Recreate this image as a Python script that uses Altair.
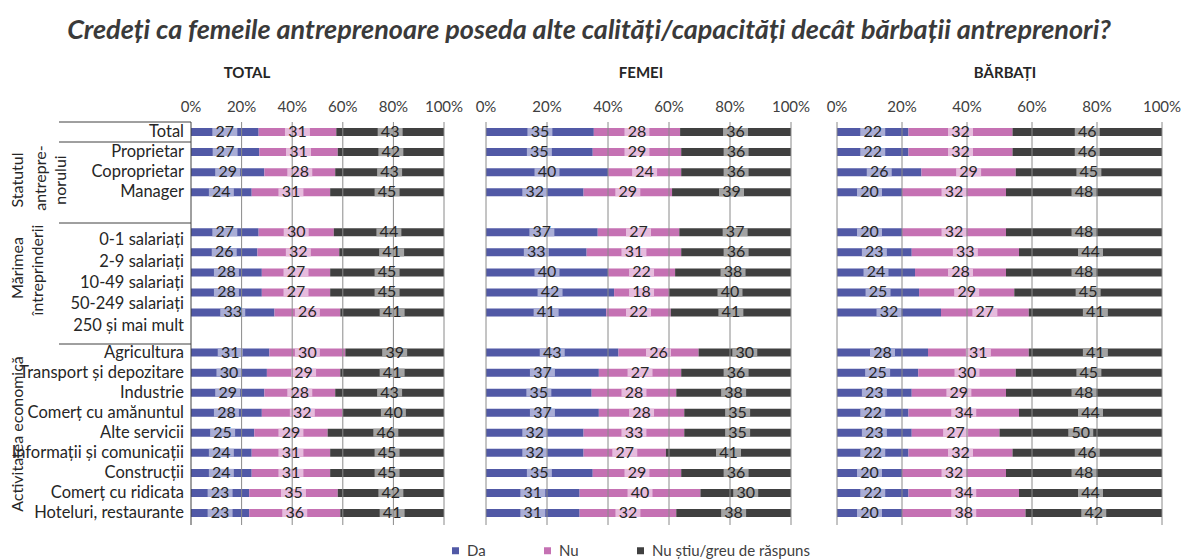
import altair as alt
import pandas as pd

# ---------------- data ----------------
ROWS = ["Total", "Proprietar", "Coproprietar", "Manager", "sp1",
        "0-1 salariați", "2-9 salariați", "10-49 salariați", "50-249 salariați", "250 și mai mult", "sp2",
        "Agricultura", "Transport și depozitare", "Industrie", "Comerț cu amănuntul", "Alte servicii",
        "Informații și comunicații", "Construcții", "Comerț cu ridicata", "Hoteluri, restaurante"]
LABELS = [r for r in ROWS if not r.startswith("sp")]
MARIMEA = ["0-1 salariați", "2-9 salariați", "10-49 salariați", "50-249 salariați", "250 și mai mult"]

CATS = ["Da", "Nu", "Nu știu/greu de răspuns"]

total_da = [27, 27, 29, 24, 27, 26, 28, 28, 33, 31, 30, 29, 28, 25, 24, 24, 23, 23]
total_nu = [31, 31, 28, 31, 30, 32, 27, 27, 26, 30, 29, 28, 32, 29, 31, 31, 35, 36]
total_ns = [43, 42, 43, 45, 44, 41, 45, 45, 41, 39, 41, 43, 40, 46, 45, 45, 42, 41]

femei_da = [35, 35, 40, 32, 37, 33, 40, 42, 41, 43, 37, 35, 37, 32, 32, 35, 31, 31]
femei_nu = [28, 29, 24, 29, 27, 31, 22, 18, 22, 26, 27, 28, 28, 33, 27, 29, 40, 32]
femei_ns = [36, 36, 36, 39, 37, 36, 38, 40, 41, 30, 36, 38, 35, 35, 41, 36, 30, 38]

barbati_da = [22, 22, 26, 20, 20, 23, 24, 25, 32, 28, 25, 23, 22, 23, 22, 20, 22, 20]
barbati_nu = [32, 32, 29, 32, 32, 33, 28, 29, 27, 31, 30, 29, 34, 27, 32, 32, 34, 38]
barbati_ns = [46, 46, 45, 48, 48, 44, 48, 45, 41, 41, 45, 48, 44, 50, 46, 48, 44, 42]

GRID = [0, 20, 40, 60, 80, 100]
GRID_LABELS = ["0%", "20%", "40%", "60%", "80%", "100%"]

TITLE = "Credeți ca femeile antreprenoare poseda alte calități/capacități decât bărbații antreprenori?"

# ---------------- styles ----------------
DARK = ["#5159A6", "#C571B3", "#404040"]
LIGHT = ["#A9ADD6", "#E6BCDD", "#A3A3A3"]
FONT = "Lato"
TXT = "#262626"


def long_table(da, nu, ns):
    recs = []
    for row, a, b, c in zip(LABELS, da, nu, ns):
        tot = a + b + c
        cum = 0
        for cat, v in zip(CATS, (a, b, c)):
            s = cum / tot * 100
            e = (cum + v) / tot * 100
            recs.append(dict(row=row, cat=cat, val=v, start=s, end=e, mid=(s + e) / 2))
            cum += v
    return pd.DataFrame(recs)


yscale = alt.Scale(domain=ROWS, range=[114, 515], paddingInner=0, paddingOuter=0)
cscale = alt.Scale(domain=CATS, range=DARK)
legend = alt.Legend(orient="none", legendX=440, legendY=535, direction="horizontal", title=None,
                    symbolType="square", symbolSize=49, symbolStrokeWidth=0, labelFont=FONT,
                    labelFontSize=15, labelColor="#404040", columnPadding=54, padding=0, labelOffset=4)

grid_df = pd.DataFrame({"g": GRID, "lab": GRID_LABELS})


def panel(df, xr, name, title_x, first=False):
    xs = alt.Scale(domain=[0, 100], range=xr, nice=False, zero=False)
    base = alt.Chart(df)
    y = alt.Y("row:N", scale=yscale, axis=None)
    bars = base.mark_bar(height=8).encode(
        x=alt.X("start:Q", scale=xs, axis=None), x2="end:Q", y=y,
        color=alt.Color("cat:N", scale=cscale, legend=legend))
    ticks = [base.transform_filter(alt.datum.cat == c).mark_tick(
        thickness=25, size=8, color=lc, opacity=1).encode(
        x=alt.X("mid:Q", scale=xs, axis=None), y=y) for c, lc in zip(CATS, LIGHT)]
    gridsrc = grid_df if not first else grid_df[grid_df.g > 0]
    grid = alt.Chart(gridsrc).mark_rule(color="#8a8a8a", strokeWidth=1).encode(
        x=alt.X("g:Q", scale=xs, axis=None), y=alt.value(114), y2=alt.value(517))
    texts = base.mark_text(font=FONT, fontSize=16, color=TXT, baseline="middle").encode(
        x=alt.X("mid:Q", scale=xs, axis=None), y=y, text="val:Q")
    tlabels = alt.Chart(grid_df).mark_text(font=FONT, fontSize=15, color="#404040",
                                           baseline="middle").encode(
        x=alt.X("g:Q", scale=xs, axis=None), y=alt.value(99), text="lab:N")
    ptitle = alt.Chart(pd.DataFrame({"t": [name]})).mark_text(
        font=FONT, fontSize=15, fontWeight="bold", color=TXT, baseline="middle").encode(
        x=alt.value(title_x), y=alt.value(65), text="t:N")
    return alt.layer(bars, *ticks, grid, texts, tlabels, ptitle)


p_total = panel(long_table(total_da, total_nu, total_ns), [183, 436], "TOTAL", 239, first=True)
p_fem = panel(long_table(femei_da, femei_nu, femei_ns), [478, 783], "FEMEI", 633)
p_bar = panel(long_table(barbati_da, barbati_nu, barbati_ns), [829, 1154], "BĂRBAȚI", 997)

# left-hand category labels (the size group is drawn slightly lower, as in the original)
lab_df = pd.DataFrame({"row": LABELS})
lab_df["off"] = [18 + 1.35 * MARIMEA.index(r) if r in MARIMEA else 10 for r in LABELS]
cat_labels = alt.Chart(lab_df).mark_text(font=FONT, fontSize=16.5, color=TXT, align="right",
                                         baseline="middle").encode(
    x=alt.value(176), y=alt.Y("row:N", scale=yscale, axis=None),
    yOffset=alt.YOffset("off:Q", scale=None), text="row:N")


def rtext(t, x, y):
    return alt.Chart(pd.DataFrame({"t": [t]})).mark_text(
        font=FONT, fontSize=16, color=TXT, angle=270, align="center", baseline="middle").encode(
        x=alt.value(x), y=alt.value(y), text="t:N")


groups = [rtext("Statutul", 10, 172), rtext("antrepre-", 33, 170), rtext("norului", 53, 172),
          rtext("Mărimea", 10, 260), rtext("întreprinderii", 30, 262),
          rtext("Activitatea economică", 10, 426)]


def hline(y):
    return alt.Chart(pd.DataFrame({"a": [0]})).mark_rule(color="#404040", strokeWidth=1).encode(
        x=alt.value(51), x2=alt.value(183), y=alt.value(y))


lines = [hline(114), hline(134), hline(215), hline(336)]
vline = alt.Chart(pd.DataFrame({"a": [0]})).mark_rule(color="#404040", strokeWidth=1).encode(
    x=alt.value(183), y=alt.value(114), y2=alt.value(517))

title = alt.Chart(pd.DataFrame({"t": [TITLE]})).mark_text(
    font=FONT, fontSize=27, fontStyle="italic", fontWeight="bold", color="#3a3a3a",
    baseline="middle").encode(x=alt.value(581), y=alt.value(23), text="t:N")

chart = alt.layer(cat_labels, p_total, p_fem, p_bar, *groups, *lines, vline, title).resolve_scale(
    x="independent").properties(
    width=1173, height=552, autosize=alt.AutoSizeParams(type="none"), padding=0
).configure_view(stroke=None)

chart.save("out.html", embed_options={"renderer": "svg", "actions": False})
